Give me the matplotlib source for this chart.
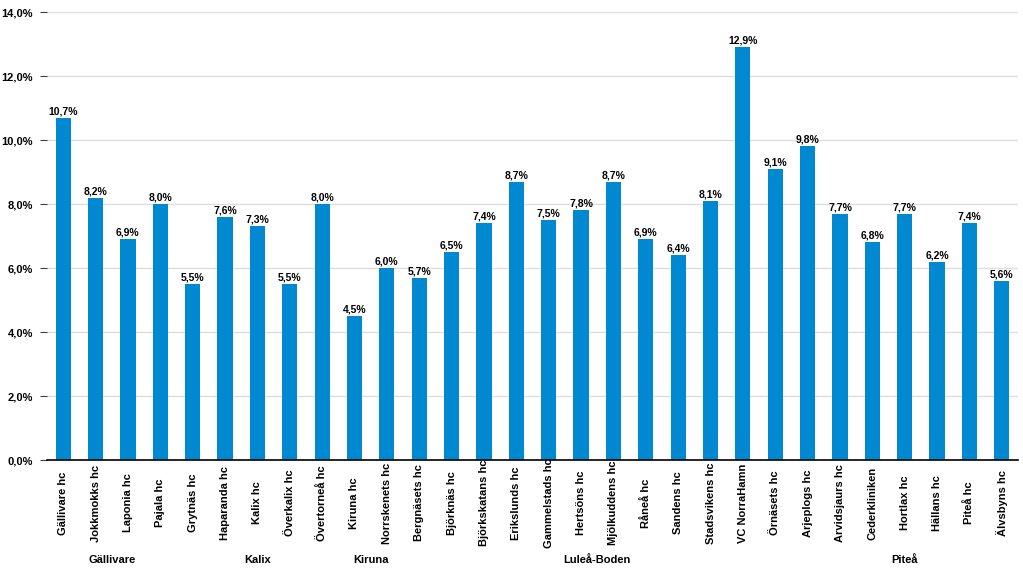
import matplotlib
matplotlib.use("Agg")
import matplotlib.pyplot as plt
from matplotlib.ticker import FuncFormatter

plt.rcParams['font.family'] = ['Liberation Sans', 'DejaVu Sans']

categories = ["Gällivare hc", "Jokkmokks hc", "Laponia hc", "Pajala hc", "Grytnäs hc",
              "Haparanda hc", "Kalix hc", "Överkalix hc", "Övertorneå hc", "Kiruna hc",
              "Norrskenets hc", "Bergnäsets hc", "Björknäs hc", "Björkskatans hc", "Erikslunds hc",
              "Gammelstads hc", "Hertsöns hc", "Mjölkuddens hc", "Råneå hc", "Sandens hc",
              "Stadsvikens hc", "VC NorraHamn", "Örnäsets hc", "Arjeplogs hc", "Arvidsjaurs hc",
              "Cederkliniken", "Hortlax hc", "Hällans hc", "Piteå hc", "Älvsbyns hc"]
values = [10.7, 8.2, 6.9, 8.0, 5.5, 7.6, 7.3, 5.5, 8.0, 4.5,
          6.0, 5.7, 6.5, 7.4, 8.7, 7.5, 7.8, 8.7, 6.9, 6.4,
          8.1, 12.9, 9.1, 9.8, 7.7, 6.8, 7.7, 6.2, 7.4, 5.6]
groups = ["Gällivare", "Kalix", "Kiruna", "Luleå-Boden", "Piteå"]
group_sizes = [4, 5, 2, 12, 7]
yticks = [0, 2, 4, 6, 8, 10, 12, 14]

def pct(v):
    return f"{v:.1f}%".replace(".", ",")

fig = plt.figure(figsize=(10.23, 5.73), dpi=100)
ax = fig.add_axes([47/1023, 113/573, 971/1023, 448/573])

x = list(range(len(categories)))
ax.bar(x, values, width=0.47, color="#0088D1", zorder=3)
for xi, v in zip(x, values):
    ax.text(xi, v + 0.05, pct(v), ha="center", va="bottom", fontsize=7.5,
            fontweight="bold", color="black", zorder=4)

ax.set_xlim(-0.5, len(categories) - 0.5)
ax.set_ylim(0, 14)
ax.set_yticks(yticks)
ax.yaxis.set_major_formatter(FuncFormatter(lambda v, p: pct(v)))
ax.grid(axis="y", color="#dedede", linewidth=1, zorder=0)
ax.set_axisbelow(True)
for s in ["top", "right", "left"]:
    ax.spines[s].set_visible(False)
ax.spines["bottom"].set_color("black")
ax.spines["bottom"].set_linewidth(1.2)
ax.spines["bottom"].set_zorder(5)

ax.set_xticks(x)
ax.set_xticklabels([])
ax.tick_params(axis="x", length=0)
ax.tick_params(axis="y", length=5, color="#404040", labelsize=8, pad=5)
for lbl in ax.get_yticklabels():
    lbl.set_fontweight("bold")

xt = ax.get_xaxis_transform()
for xi, c in zip(x, categories):
    ax.text(xi, -43 / 448, c, transform=xt, rotation=90, ha="center", va="center",
            fontsize=8, fontweight="bold", clip_on=False)

start = 0
for g, n in zip(groups, group_sizes):
    center = start + (n - 1) / 2
    ax.text(center, -100 / 448, g, transform=xt, ha="center",
            va="center", fontsize=8, fontweight="bold", clip_on=False)
    start += n

fig.savefig("out.png", dpi=100)
